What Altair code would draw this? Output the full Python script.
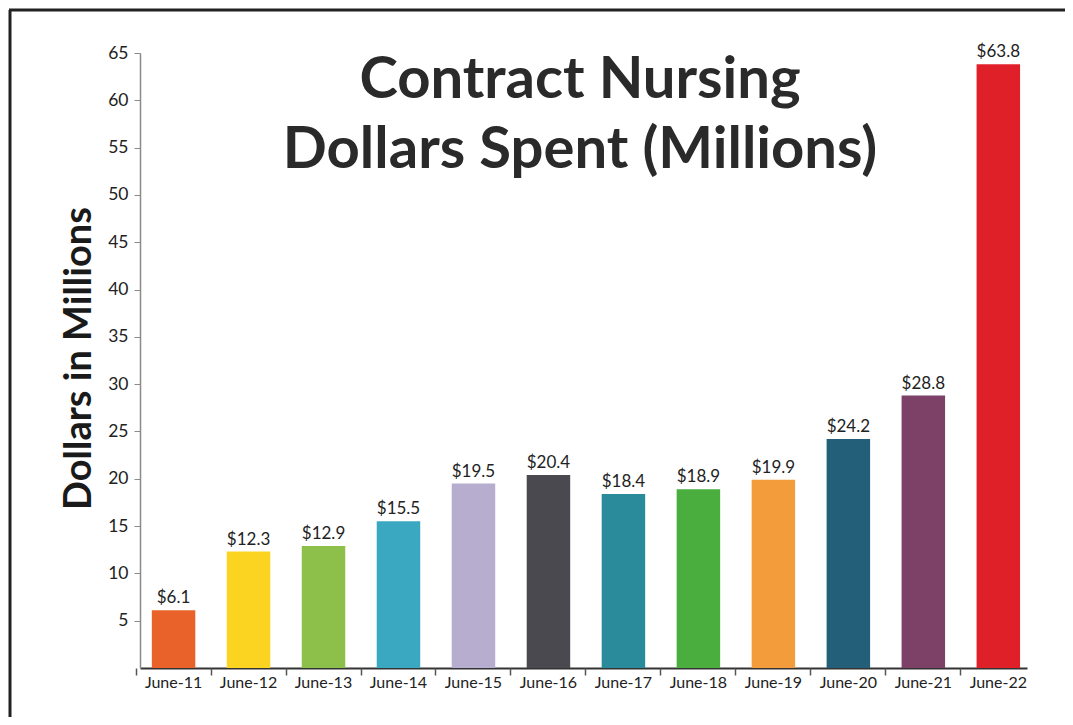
import altair as alt
import pandas as pd

months = ["June-11", "June-12", "June-13", "June-14", "June-15", "June-16",
          "June-17", "June-18", "June-19", "June-20", "June-21", "June-22"]
values = [6.1, 12.3, 12.9, 15.5, 19.5, 20.4, 18.4, 18.9, 19.9, 24.2, 28.8, 63.8]
colors = ["#E8622A", "#FBD321", "#8DC04B", "#3AA8C1", "#B7AECF", "#4A4950",
          "#2A8B9A", "#4AAE3F", "#F39C3C", "#245F7A", "#7D4066", "#E02028"]
y_ticks = [5, 10, 15, 20, 25, 30, 35, 40, 45, 50, 55, 60, 65]
title_lines = ["Contract Nursing", "Dollars Spent (Millions)"]
y_title = "Dollars in Millions"

df = pd.DataFrame({"month": months, "value": values})
df["label"] = ["$" + f"{v:.1f}" for v in values]

FONT = "Lato"
x_scale = alt.Scale(domain=months, paddingInner=0.42, paddingOuter=0.125, align=0.63)
y_scale = alt.Scale(domain=[0, 65], nice=False)

base = alt.Chart(df)

bars = base.mark_bar().encode(
    x=alt.X("month:N", sort=months, scale=x_scale,
            axis=alt.Axis(title=None, orient="bottom", ticks=False, domain=True,
                          domainColor="#333", domainWidth=2, labelFontSize=16,
                          labelColor="#222", labelFont=FONT, labelPadding=6,
                          labelAngle=0)),
    y=alt.Y("value:Q", scale=y_scale,
            axis=alt.Axis(values=y_ticks, grid=False, domainColor="#8a8a8a",
                          domainWidth=1.5, tickColor="#8a8a8a", tickSize=6,
                          labelFontSize=17.5, labelColor="#222", labelFont=FONT,
                          labelPadding=6, title=y_title, titleFont=FONT,
                          titleFontSize=38, titleFontWeight="bold",
                          titleColor="#1a1a1a", titleX=-61, titleY=305,
                          titleAngle=270, titleAlign="center",
                          titleBaseline="middle")),
    color=alt.Color("month:N", scale=alt.Scale(domain=months, range=colors), legend=None),
)

tick_layer = base.mark_bar(opacity=0).encode(
    x=alt.X("month:N", sort=months, scale=x_scale,
            axis=alt.Axis(title=None, orient="bottom", labels=False, domain=False,
                          ticks=True, tickSize=7, tickColor="#555", tickWidth=1.5,
                          bandPosition=-0.362)),
)

value_labels = base.mark_text(baseline="bottom", dy=-3, fontSize=17, font=FONT,
                              color="#222").encode(
    x=alt.X("month:N", sort=months, scale=x_scale, axis=None),
    y=alt.Y("value:Q", scale=y_scale),
    text="label:N",
)

one = alt.Data(values=[{}])
title1 = alt.Chart(one).mark_text(fontSize=58, font=FONT, fontWeight="bold",
                                  color="#2a2a2a", align="center",
                                  baseline="alphabetic").encode(
    x=alt.value(440), y=alt.value(45), text=alt.value(title_lines[0]))
title2 = alt.Chart(one).mark_text(fontSize=58, font=FONT, fontWeight="bold",
                                  color="#2a2a2a", align="center",
                                  baseline="alphabetic").encode(
    x=alt.value(440), y=alt.value(115), text=alt.value(title_lines[1]))

frame_left = alt.Chart(one).mark_rule(color="#222", strokeWidth=3).encode(
    x=alt.value(-130), y=alt.value(-43), y2=alt.value(690))
frame_top = alt.Chart(one).mark_rule(color="#222", strokeWidth=3).encode(
    x=alt.value(-131), x2=alt.value(950), y=alt.value(-43))

chart = alt.layer(bars, tick_layer, value_labels, title1, title2,
                  frame_left, frame_top).resolve_axis(x="independent").properties(
    width=887, height=615,
    padding={"left": 132, "top": 45, "right": 38, "bottom": 49},
    autosize=alt.AutoSizeParams(type="none"),
    background="white",
).configure_view(stroke=None)

chart.save("out.html", embed_options={"renderer": "svg", "actions": False})
